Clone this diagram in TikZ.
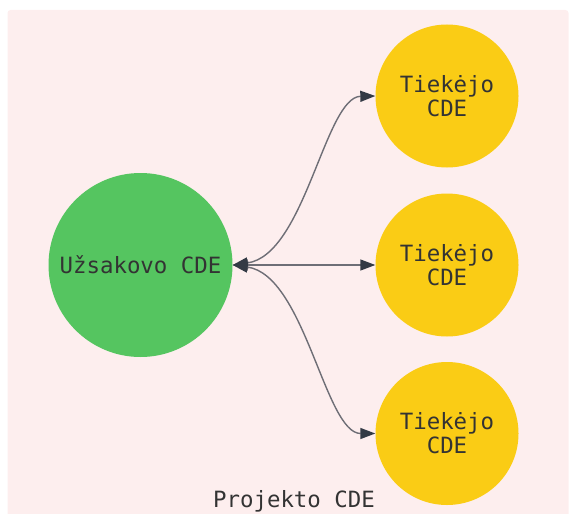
\documentclass[tikz,border=0pt]{standalone}
\usepackage{fontspec}
\setmonofont{DejaVu Sans Mono}
\usetikzlibrary{arrows.meta}
\definecolor{bgpink}{RGB}{253,238,238}
\definecolor{cgreen}{RGB}{85,197,96}
\definecolor{cyellow}{RGB}{250,204,21}
\definecolor{ctext}{RGB}{51,51,51}
\definecolor{cline}{RGB}{110,110,118}
\definecolor{ctip}{RGB}{51,58,69}
\tikzset{
  client/.style={circle, fill=cgreen, minimum size=184pt, inner sep=0pt,
    font=\ttfamily\fontsize{22.4}{24}\selectfont, text=ctext},
  supplier/.style={circle, fill=cyellow, minimum size=143pt, inner sep=0pt,
    font=\ttfamily\fontsize{22.4}{24}\selectfont, text=ctext, align=center},
  label/.style={font=\ttfamily\fontsize{22.4}{24}\selectfont, text=ctext},
  link/.style={draw=cline, line width=1.4pt, {Triangle[length=15pt,width=11pt,fill=ctip,color=ctip]}-{Triangle[length=15pt,width=11pt,fill=ctip,color=ctip]}}
}
\begin{document}
\begin{tikzpicture}[x=1pt,y=-1pt]
\useasboundingbox (0,0) rectangle (569,513);
\fill[bgpink, rounded corners=3pt] (7.5,10) rectangle (568.5,540);
\node[client] (u) at (140.5,265) {Užsakovo CDE};
\node[supplier] (t1) at (447,96) {Tiekėjo\\CDE};
\node[supplier] (t2) at (447,265) {Tiekėjo\\CDE};
\node[supplier] (t3) at (447,433.5) {Tiekėjo\\CDE};
\node[label, anchor=base] (p) at (294,507) {Projekto CDE};
\draw[link] (u.east) .. controls (305,255) and (325,97) .. (t1.west);
\draw[link] (u.east) -- (t2.west);
\draw[link] (u.east) .. controls (305,275) and (325,433.5) .. (t3.west);
\end{tikzpicture}
\end{document}
